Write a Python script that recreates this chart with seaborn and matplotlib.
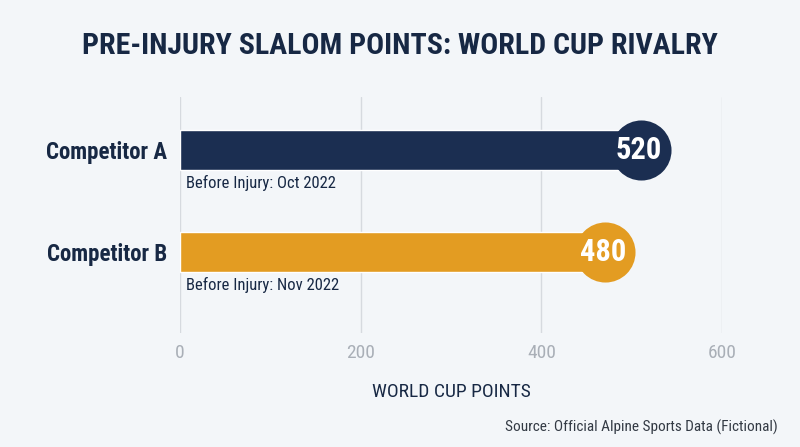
import numpy as np
import pandas as pd
import seaborn as sns
import matplotlib
matplotlib.use("Agg")
import matplotlib.pyplot as plt
from matplotlib import font_manager as fm

# chart data
competitors = ["Competitor A", "Competitor B"]
points = [520, 480]
notes = ["Before Injury: Oct 2022", "Before Injury: Nov 2022"]
bar_colors = ["#1b2e51", "#e39c22"]
x_ticks = [0, 200, 400, 600]

bg = "#f3f6f9"
navy = "#172844"

sns.set_theme(style="white")

# pick a narrow face if one is there
installed = {f.name for f in fm.fontManager.ttflist}
font = "Roboto"
for cand in ["Roboto Condensed", "Liberation Sans Narrow", "Roboto"]:
    if cand in installed:
        font = cand
        break
plt.rcParams["font.family"] = [font, "DejaVu Sans"]

df = pd.DataFrame({"competitor": competitors, "points": points})

fig = plt.figure(figsize=(8, 4.47), dpi=100, facecolor=bg)
ax = fig.add_axes([0.225, 0.255, 0.6775, 0.528])
ax.set_facecolor(bg)

sns.barplot(data=df, x="points", y="competitor", hue="competitor",
            palette=bar_colors, orient="h", width=0.39, legend=False,
            saturation=1, ax=ax, zorder=2)

# round end caps with the value
for i, (v, c) in enumerate(zip(points, bar_colors)):
    ax.scatter(v - 10, i, s=1870, color=c, zorder=3, linewidths=0)
    ax.text(v - 12, i, str(v), color="white", fontsize=22, fontweight="bold",
            ha="center", va="center", zorder=4)
    ax.annotate(notes[i], xy=(0, i), xytext=(6, -33), textcoords="offset pixels",
                ha="left", va="center", fontsize=12, color=navy)

ax.set_xlim(0, 600)
ax.set_ylim(1.79, -0.52)
ax.set_xticks(x_ticks)
ax.set_xticklabels([str(t) for t in x_ticks], fontsize=14, color="#a9afb7")
ax.tick_params(axis="x", length=0, pad=8)
ax.tick_params(axis="y", length=0, pad=9)
for lab in ax.get_yticklabels():
    lab.set_fontsize(16.5)
    lab.set_fontweight("bold")
    lab.set_color(navy)

ax.grid(axis="x", color="#d6dadf", linewidth=1, zorder=0)
ax.grid(axis="y", visible=False)
sns.despine(ax=ax, left=True, bottom=True)

ax.set_ylabel("")
ax.set_xlabel("WORLD CUP POINTS", fontsize=14, color=navy, labelpad=15)

fig.text(0.5, 0.897, "PRE-INJURY SLALOM POINTS: WORLD CUP RIVALRY",
         ha="center", va="center", fontsize=21.5, fontweight="bold", color=navy)
fig.text(0.972, 0.043, "Source: Official Alpine Sports Data (Fictional)",
         ha="right", va="center", fontsize=11, color="#333a44")

fig.savefig("out.png", dpi=100, facecolor=bg)
